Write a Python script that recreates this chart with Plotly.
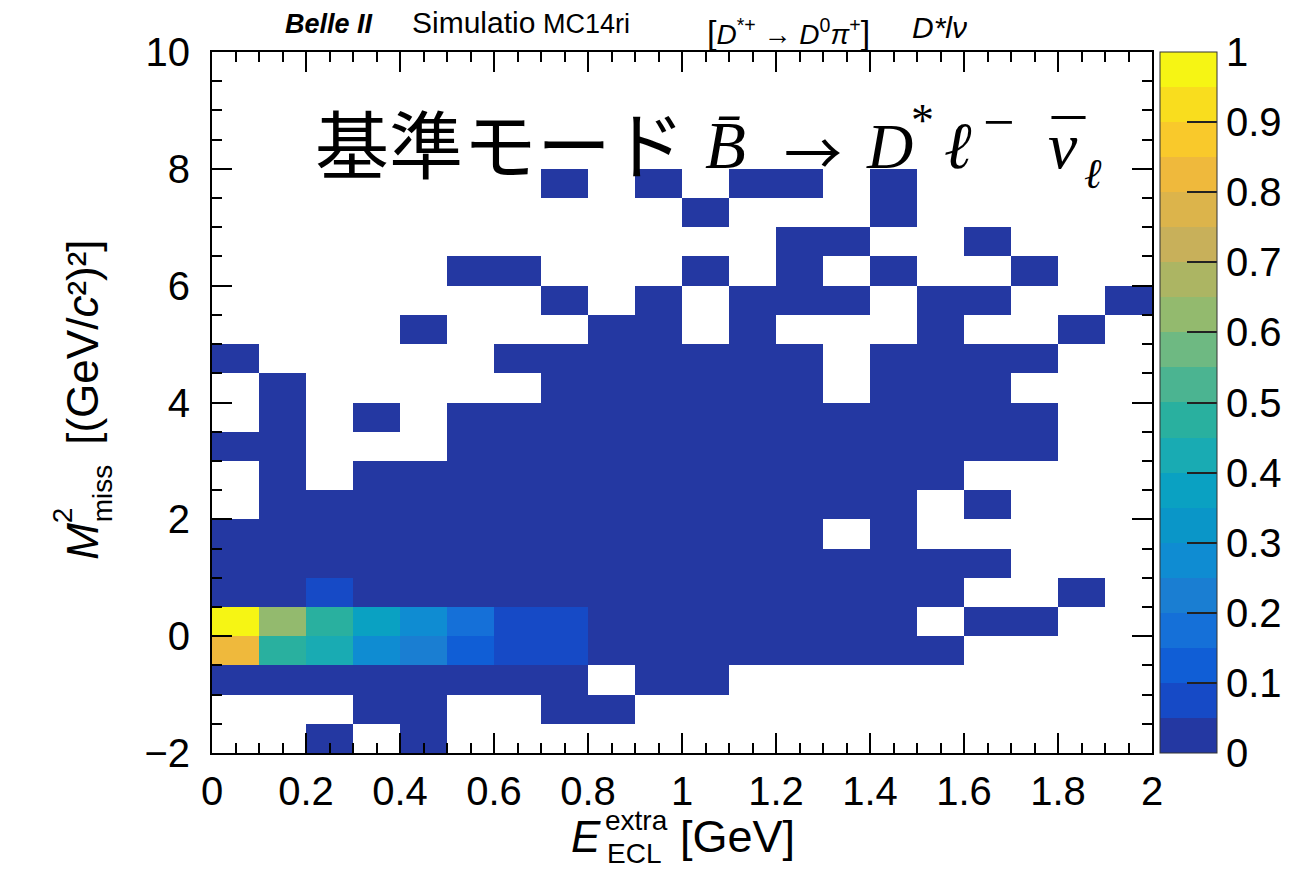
import plotly.graph_objects as go

# ---------------- data ----------------
x_centers = [0.05, 0.15, 0.25, 0.35, 0.45, 0.55, 0.65, 0.75, 0.85, 0.95,
             1.05, 1.15, 1.25, 1.35, 1.45, 1.55, 1.65, 1.75, 1.85, 1.95]
y_centers = [-1.75, -1.25, -0.75, -0.25, 0.25, 0.75, 1.25, 1.75, 2.25, 2.75,
             3.25, 3.75, 4.25, 4.75, 5.25, 5.75, 6.25, 6.75, 7.25, 7.75,
             8.25, 8.75, 9.25, 9.75]
_ = None
# normalized bin contents, one row per M2miss bin (bottom to top), 20 Eextra bins each
z_rows = [
    [_, _, .02, _, .02, _, _, _, _, _, _, _, _, _, _, _, _, _, _, _],                       # -2.0
    [_, _, _, .02, .02, _, _, .02, .02, _, _, _, _, _, _, _, _, _, _, _],                   # -1.5
    [.02, .02, .02, .02, .02, .02, .02, .02, _, .02, .02, _, _, _, _, _, _, _, _, _],       # -1.0
    [.82, .47, .42, .28, .22, .12, .08, .08, .02, .02, .02, .02, .02, .02, .02, .02, _, _, _, _],  # -0.5
    [.98, .62, .48, .37, .28, .17, .08, .08, .02, .02, .02, .02, .02, .02, .02, _, .02, .02, _, _],  # 0.0
    [.02, .02, .08, .02, .02, .02, .02, .02, .02, .02, .02, .02, .02, .02, .02, .02, _, _, .02, _],  # 0.5
    [.02, .02, .02, .02, .02, .02, .02, .02, .02, .02, .02, .02, .02, .02, .02, .02, .02, _, _, _],  # 1.0
    [.02, .02, .02, .02, .02, .02, .02, .02, .02, .02, .02, .02, .02, _, .02, _, _, _, _, _],       # 1.5
    [_, .02, .02, .02, .02, .02, .02, .02, .02, .02, .02, .02, .02, .02, .02, _, .02, _, _, _],     # 2.0
    [_, .02, _, .02, .02, .02, .02, .02, .02, .02, .02, .02, .02, .02, .02, .02, _, _, _, _],       # 2.5
    [.02, .02, _, _, _, .02, .02, .02, .02, .02, .02, .02, .02, .02, .02, .02, .02, .02, _, _],     # 3.0
    [_, .02, _, .02, _, .02, .02, .02, .02, .02, .02, .02, .02, .02, .02, .02, .02, .02, _, _],     # 3.5
    [_, .02, _, _, _, _, _, .02, .02, .02, .02, .02, .02, _, .02, .02, .02, _, _, _],             # 4.0
    [.02, _, _, _, _, _, .02, .02, .02, .02, .02, .02, .02, _, .02, .02, .02, .02, _, _],         # 4.5
    [_, _, _, _, .02, _, _, _, .02, .02, _, .02, _, _, _, .02, _, _, .02, _],                     # 5.0
    [_, _, _, _, _, _, _, .02, _, .02, _, .02, .02, .02, _, .02, .02, _, _, .02],                 # 5.5
    [_, _, _, _, _, .02, .02, _, _, _, .02, _, .02, _, .02, _, _, .02, _, _],                     # 6.0
    [_, _, _, _, _, _, _, _, _, _, _, _, .02, .02, _, _, .02, _, _, _],                           # 6.5
    [_, _, _, _, _, _, _, _, _, _, .02, _, _, _, .02, _, _, _, _, _],                             # 7.0
    [_, _, _, _, _, _, _, .02, _, .02, _, .02, .02, _, .02, _, _, _, _, _],                       # 7.5
    [_] * 20,                                                                                      # 8.0
    [_] * 20,                                                                                      # 8.5
    [_] * 20,                                                                                      # 9.0
    [_] * 20,                                                                                      # 9.5
]
cbar_ticks = [0, 0.1, 0.2, 0.3, 0.4, 0.5, 0.6, 0.7, 0.8, 0.9, 1]
cbar_labels = ["0", "0.1", "0.2", "0.3", "0.4", "0.5", "0.6", "0.7", "0.8", "0.9", "1"]

# 20-step palette (bottom to top)
band_colors = ["#2438a2", "#164ac6", "#105ed6", "#1570d8", "#1a7ed2", "#0f8cd2",
               "#0a96c8", "#0aa1c2", "#19abb3", "#29b09f", "#4bb491", "#6eb982",
               "#93ba6e", "#acb563", "#c8b05a", "#dcb44b", "#efb93c", "#f9c92b",
               "#f9dd1e", "#f6f514"]
nb = len(band_colors)
colorscale = []
for i, c in enumerate(band_colors):
    colorscale.append([i / nb, c])
    colorscale.append([(i + 1) / nb, c])

# ---------------- geometry ----------------
W_FIG, H_FIG = 1312, 869
L, R, T, B = 212, 160, 52, 116
PW, PH = W_FIG - L - R, H_FIG - T - B


def fx(xp):
    return (xp - L) / PW


def fy(yp):
    return (T + PH - yp) / PH


SANS = "Liberation Sans, Arial, Helvetica, sans-serif"
SERIF = "Liberation Serif, DejaVu Serif, serif"

fig = go.Figure(go.Heatmap(
    x=x_centers, y=y_centers, z=z_rows,
    zmin=0, zmax=1, colorscale=colorscale, hoverongaps=False,
    colorbar=dict(
        x=fx(1160), xanchor="left", xpad=0, ypad=0,
        y=0.5, yanchor="middle", len=1, lenmode="fraction",
        thickness=57, thicknessmode="pixels",
        outlinewidth=1, outlinecolor="#333333",
        tickvals=cbar_ticks, ticktext=cbar_labels,
        ticks="inside", ticklen=30, tickwidth=1.5, tickcolor="#222222",
        tickfont=dict(family=SANS, size=40, color="black"),
    ),
))

axis_common = dict(
    showline=True, linecolor="black", linewidth=2, mirror="allticks",
    ticks="inside", ticklen=20, tickwidth=1.5, tickcolor="black",
    showgrid=False, zeroline=False,
    tickfont=dict(family=SANS, size=40, color="black"),
)
fig.update_xaxes(range=[0, 2], dtick=0.2, tick0=0, ticklabelstandoff=2,
                 minor=dict(ticks="inside", ticklen=10, dtick=0.05, tickwidth=1.5,
                            tickcolor="black", showgrid=False),
                 **axis_common)
fig.update_yaxes(range=[-2, 10], dtick=2, tick0=0, ticklabelstandoff=12,
                 minor=dict(ticks="inside", ticklen=10, dtick=0.5, tickwidth=1.5,
                            tickcolor="black", showgrid=False),
                 **axis_common)

ann = []


def add(text, xp, yp, size, xanchor="left", family=SANS, angle=0, **kw):
    ann.append(dict(text=text, x=fx(xp), y=fy(yp), xref="paper", yref="paper",
                    xanchor=xanchor, yanchor="middle", showarrow=False,
                    textangle=angle, font=dict(family=family, size=size, color="black"),
                    **kw))


def add_base(text, xp, baseline, size, family=SANS, k=0.3465, **kw):
    # place text so that its baseline sits at pixel row `baseline`
    add(text, xp, baseline - k * size, size, family=family, **kw)


# x-axis title pieces
add_base("<i>E</i>", 569, 852, 44)
add_base("extra", 603, 830, 28)
add_base("ECL", 605, 863, 28)
add_base("[GeV]", 678, 852, 45)

# y-axis title pieces (rotated)
add("<i>M</i>", 97 - 0.3465 * 44, 541, 44, xanchor="center", angle=-90)
add("2", 72 - 0.3465 * 28, 515, 28, xanchor="center", angle=-90)
add("miss", 112 - 0.3465 * 28, 493, 28, xanchor="center", angle=-90)
add("[(GeV/<i>c</i>²)²]", 97 - 0.3465 * 44, 342, 44, xanchor="center", angle=-90)

# header line
add_base("<b><i>Belle II</i></b>", 283, 33, 27)
add_base("Simulatio", 410, 33, 30)
add_base("MC14ri", 541, 33, 27)
add_base('<span style="font-size:34px">[</span><i>D</i><sup>*+</sup> → <i>D</i>'
         '<sup>0</sup><i>π</i><sup>+</sup><span style="font-size:34px">]</span>',
         705, 42, 28)
add_base("<i>D*lν</i>", 910, 38, 30)

# big label: Japanese part + formula pieces
KS = 0.3375  # Liberation Serif centre offset
add_base("基準モード", 313, 169, 74, family="Noto Sans CJK JP", k=0.39)
add_base("<i>B\u0304</i>", 703, 168, 67, family=SERIF, k=KS)
add("→", 782, 150, 58, family="Noto Sans CJK JP")
add_base("<i>D</i>", 864, 168, 64, family=SERIF, k=KS)
add_base("*", 909, 136, 46, family=SERIF, k=KS)
add_base("<i>ℓ</i>", 942, 168, 66, family=SERIF, k=KS)
add("−", 981, 122, 56, family=SERIF)
add_base("<i>ν</i>", 1046, 168, 66, family=SERIF, k=KS)
add("¯", 1049, 143, 66, family=SERIF)
add_base("<i>ℓ</i>", 1082, 188, 42, family=SERIF, k=KS)

fig.update_layout(
    width=W_FIG, height=H_FIG,
    margin=dict(l=L, r=R, t=T, b=B, pad=0, autoexpand=False),
    paper_bgcolor="white", plot_bgcolor="white",
    annotations=ann, showlegend=False,
)

fig.write_html("out.html")
